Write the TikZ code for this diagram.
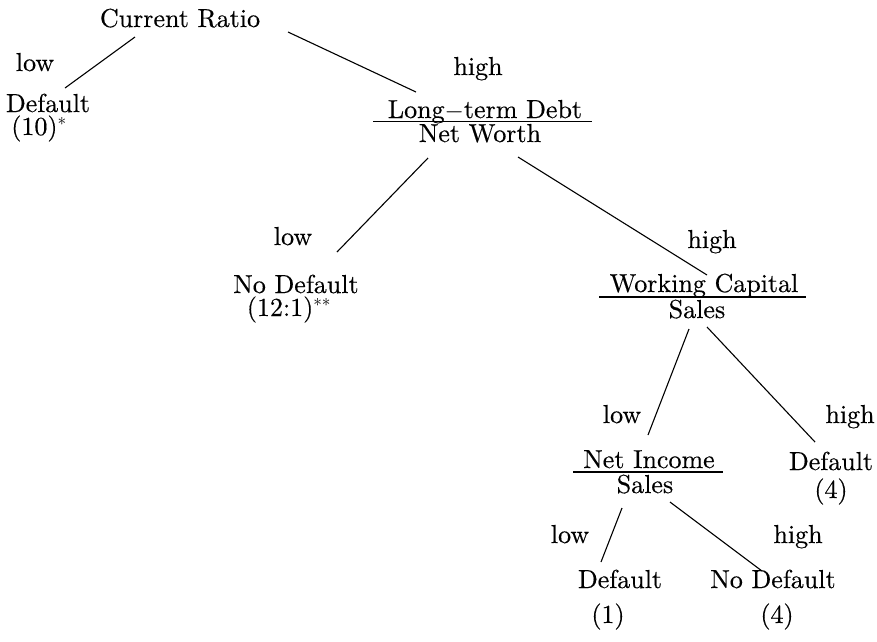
\documentclass[tikz,border=0pt]{standalone}
\usepackage{fontspec}
\setmainfont{lmroman10}[Extension=.otf,UprightFont=*-regular,BoldFont=*-bold,ItalicFont=*-italic,BoldItalicFont=*-bolditalic,UprightFeatures={FakeBold=0.35}]
\begin{document}
\begin{tikzpicture}[x=1pt,y=-1pt,
  lbl/.style={anchor=base, inner sep=0pt, font=\fontsize{26}{28}\selectfont},
  edge/.style={line width=1.1pt},
  fracrule/.style={line width=1.2pt}]
\useasboundingbox (0,0) rectangle (877,641);
% labels / nodes
\node[lbl] (cr)   at (180,27)  {Current Ratio};
\node[lbl] (l1)   at (35,71)   {low};
\node[lbl] (d1)   at (48,112)  {Default};
\node[lbl] (d1n)  at (39,135)  {(10)$^{*}$};
\node[lbl] (h1)   at (478,75)  {high};
\node[lbl] (ltd)  at (485,118) {Long$-$term Debt};
\node[lbl] (nw)   at (480,142) {Net Worth};
\node[lbl] (l2)   at (293,245) {low};
\node[lbl] (nd)   at (296,293) {No Default};
\node[lbl] (ndn)  at (289,316) {(12:1)$^{**}$};
\node[lbl] (h2)   at (712,248) {high};
\node[lbl] (wc)   at (704,292) {Working Capital};
\node[lbl] (wcs)  at (697,318) {Sales};
\node[lbl] (l3)   at (622,423) {low};
\node[lbl] (h3)   at (850,423) {high};
\node[lbl] (ni)   at (649,468) {Net Income};
\node[lbl] (nis)  at (645,493) {Sales};
\node[lbl] (d2)   at (831,470) {Default};
\node[lbl] (d2n)  at (831,498) {(4)};
\node[lbl] (l4)   at (570,543) {low};
\node[lbl] (h4)   at (798,543) {high};
\node[lbl] (d3)   at (620,588) {Default};
\node[lbl] (d3n)  at (608,623) {(1)};
\node[lbl] (nd2)  at (773,588) {No Default};
\node[lbl] (nd2n) at (777,623) {(4)};
% fraction rules
\draw[fracrule] (373,121.5) -- (592,121.5);
\draw[fracrule] (599,297) -- (806,297);
\draw[fracrule] (573,472) -- (723,472);
% connector end points
\coordinate (crL) at (135,37);  \coordinate (d1T) at (65,88);
\coordinate (crR) at (288,32);  \coordinate (ltdT) at (416,92);
\coordinate (nwL) at (428,158); \coordinate (ndT) at (337,252);
\coordinate (nwR) at (518,157); \coordinate (wcT) at (707,275);
\coordinate (wcL) at (689,329); \coordinate (niT) at (648,435);
\coordinate (wcR) at (707,327); \coordinate (d2T) at (815,442);
\coordinate (niL) at (622,508); \coordinate (d3T) at (601,562);
\coordinate (niR) at (670,502); \coordinate (nd2T) at (762,571);
% connectors
\draw[edge] (crL) -- (d1T);
\draw[edge] (crR) -- (ltdT);
\draw[edge] (nwL) -- (ndT);
\draw[edge] (nwR) -- (wcT);
\draw[edge] (wcL) -- (niT);
\draw[edge] (wcR) -- (d2T);
\draw[edge] (niL) -- (d3T);
\draw[edge] (niR) -- (nd2T);
\end{tikzpicture}
\end{document}
